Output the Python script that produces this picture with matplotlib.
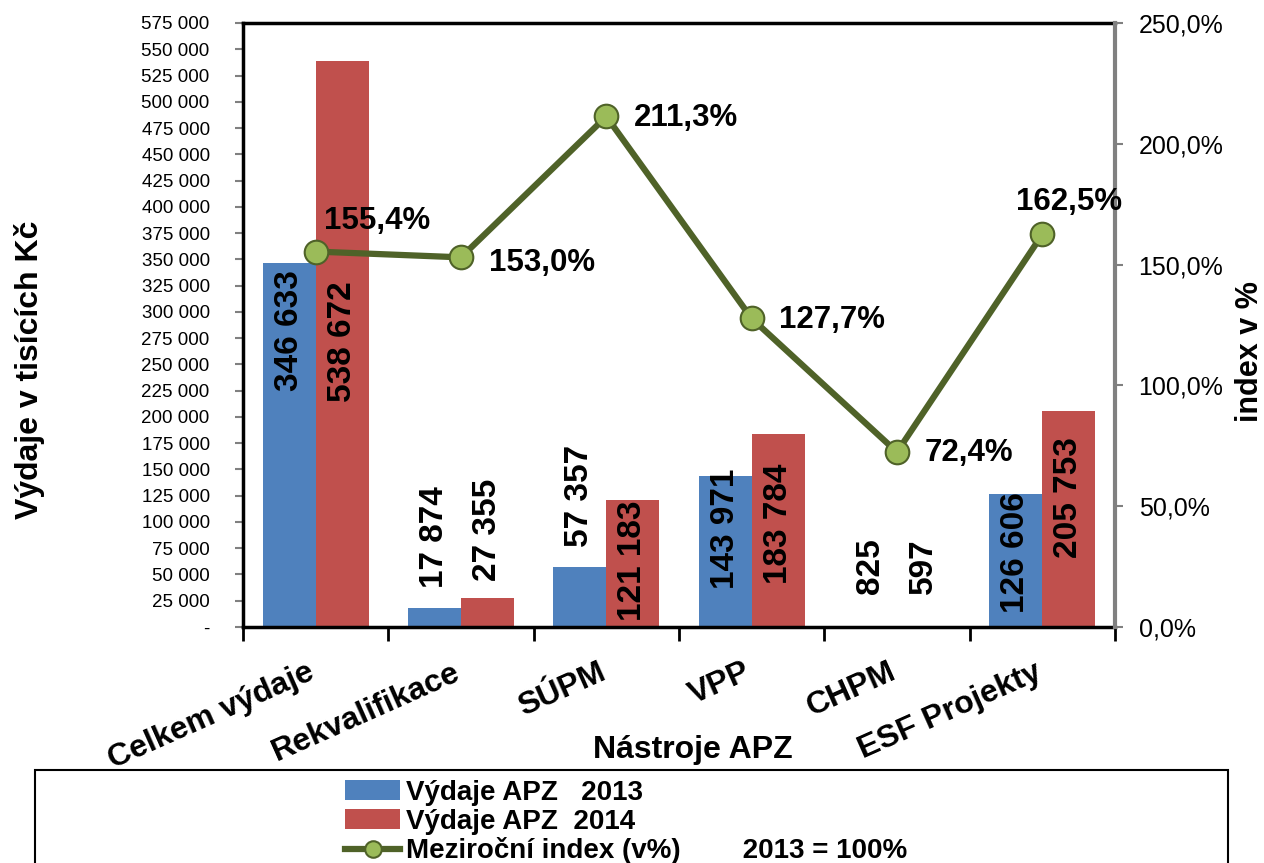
import numpy as np
import matplotlib.pyplot as plt
from matplotlib.patches import Rectangle
from matplotlib.ticker import FuncFormatter, MultipleLocator

plt.rcParams['font.family'] = ['Liberation Sans', 'DejaVu Sans']

categories = ["Celkem výdaje", "Rekvalifikace", "SÚPM", "VPP", "CHPM", "ESF Projekty"]
vydaje_2013 = [346633, 17874, 57357, 143971, 825, 126606]
vydaje_2014 = [538672, 27355, 121183, 183784, 597, 205753]
index_pct = [155.4, 153.0, 211.3, 127.7, 72.4, 162.5]

blue = "#4F81BD"
red = "#C0504D"
dark_green = "#4F6228"
light_green = "#9BBB59"

def fmt_num(v):
    return f"{v:,.0f}".replace(",", " ")

fig = plt.figure(figsize=(12.64, 8.63), dpi=100)
ax = fig.add_axes([243/1264, 1-627/863, (1115-243)/1264, (627-23)/863])

x = np.arange(len(categories))
w = 0.365
b13 = ax.bar(x - w/2, vydaje_2013, w, color=blue, label="Výdaje APZ   2013", zorder=2)
b14 = ax.bar(x + w/2, vydaje_2014, w, color=red, label="Výdaje APZ  2014", zorder=2)

ax.set_xlim(-0.5, len(categories) - 0.5)
ax.set_ylim(0, 575000)
ax.yaxis.set_major_locator(MultipleLocator(25000))
ax.yaxis.set_major_formatter(FuncFormatter(lambda v, p: "-" if v == 0 else fmt_num(v)))
ax.tick_params(axis="y", labelsize=13.5, color="#808080", length=6, width=1.5, pad=18)

ax.set_xticks(np.arange(-0.5, len(categories), 1.0))
ax.set_xticklabels([])
ax.tick_params(axis="x", length=10, width=2, color="black")
for i, c in enumerate(categories):
    ax.text(i - 0.06, -0.05, c, transform=ax.get_xaxis_transform(), rotation=24,
            rotation_mode="anchor", ha="right", va="top", fontsize=23, fontweight="bold")

for s in ["top", "bottom", "left"]:
    ax.spines[s].set_linewidth(2.5)
    ax.spines[s].set_color("black")
ax.spines["right"].set_visible(False)

# data labels (rotated, positioned as in the original)
label_y_13 = [282000, 86000, 125000, 93000, 58000, 71000]
label_y_14 = [272000, 92000, 63000, 98000, 58000, 123000]
for i in range(len(categories)):
    ax.text(x[i] - w/2, label_y_13[i], fmt_num(vydaje_2013[i]), rotation=90, ha="center",
            va="center", fontsize=24, fontweight="bold", zorder=3)
    ax.text(x[i] + w/2, label_y_14[i], fmt_num(vydaje_2014[i]), rotation=90, ha="center",
            va="center", fontsize=24, fontweight="bold", zorder=3)

ax2 = ax.twinx()
ax2.set_ylim(0, 250)
ax2.yaxis.set_major_locator(MultipleLocator(50))
ax2.yaxis.set_major_formatter(FuncFormatter(lambda v, p: f"{v:.1f}%".replace(".", ",")))
ax2.tick_params(axis="y", labelsize=18, color="#808080", length=6, width=1.5, pad=11)
for s in ["top", "bottom", "left"]:
    ax2.spines[s].set_visible(False)
ax2.spines["right"].set_color("#808080")
ax2.spines["right"].set_linewidth(3)

line, = ax2.plot(x, index_pct, color=dark_green, lw=4.5, marker="o", markersize=17,
                 markerfacecolor=light_green, markeredgecolor=dark_green, markeredgewidth=1.5,
                 label="Meziroční index (v%)        2013 = 100%", zorder=4)

offsets = [(6, 22), (20, -4), (20, -1), (20, -1), (20, -1), (-19, 23)]
for i, v in enumerate(index_pct):
    ax2.annotate(f"{v:.1f}%".replace(".", ","), (x[i], v), xytext=offsets[i],
                 textcoords="offset points", ha="left", va="center",
                 fontsize=22.5, fontweight="bold")

fig.text(30/1264, 1-370/863, "Výdaje v tisících Kč", rotation=90, ha="center", va="center",
         fontsize=23, fontweight="bold")
fig.text(1250/1264, 1-352/863, "index v %", rotation=90, ha="center", va="center",
         fontsize=22, fontweight="bold")
fig.text(693/1264, 1-750/863, "Nástroje APZ", ha="center", va="center",
         fontsize=23, fontweight="bold")

fig.patches.append(Rectangle((35/1264, -0.02), (1228-35)/1264, 1-770/863 + 0.02,
                             transform=fig.transFigure, fill=False, edgecolor="black", lw=1.5))
fig.legend(handles=[b13, b14, line], loc="upper left", bbox_to_anchor=(331/1264, 1-766/863),
           frameon=False, prop={"weight": "bold", "size": 20},
           handlelength=2.0, handletextpad=0.2, labelspacing=0.1, borderpad=0, markerscale=0.7)

fig.savefig("out.png", dpi=100)
